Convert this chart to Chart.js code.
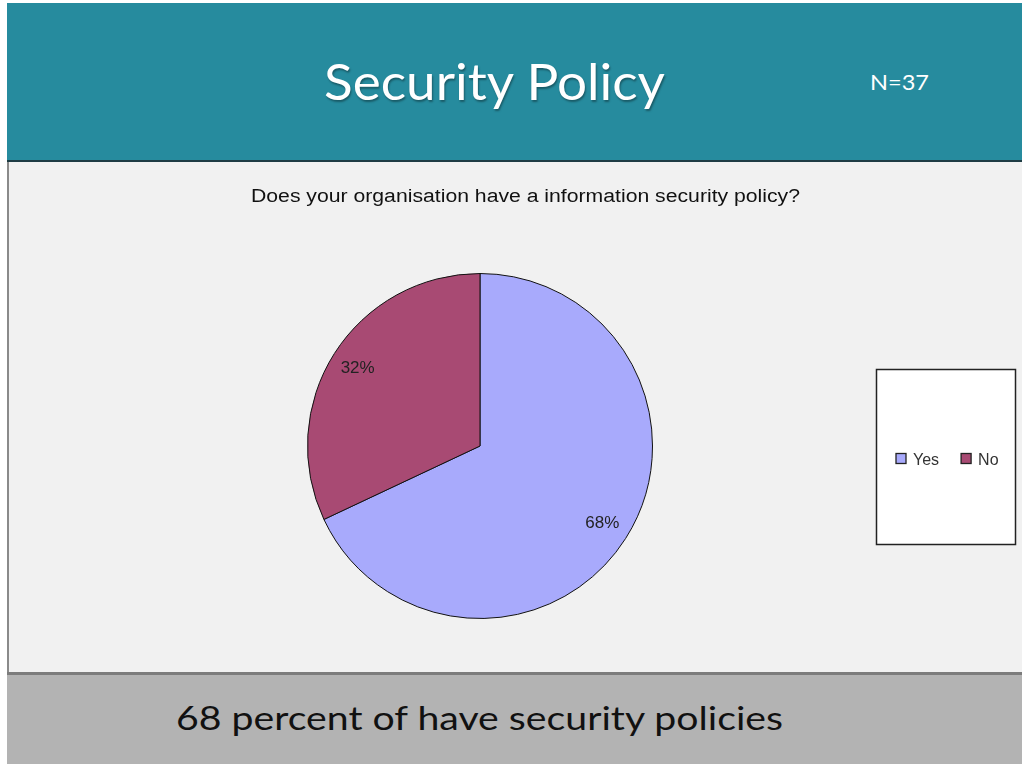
<!DOCTYPE html>
<html>
<head>
<meta charset="utf-8">
<script src="https://cdn.jsdelivr.net/npm/chart.js@4/dist/chart.umd.min.js"></script>
<style>
  html, body { margin: 0; padding: 0; background: #ffffff; }
  body { width: 1022px; height: 764px; position: relative; overflow: hidden; }
  #header {
    position: absolute; left: 7px; top: 3px; width: 1015px; height: 157px;
    background: #268b9e; border-bottom: 2px solid #1e3c44;
  }
  #content {
    position: absolute; left: 7px; top: 162px; width: 1015px; height: 510px;
    background: #f1f1f1; box-sizing: border-box; border-left: 2px solid #8a8a8a;
  }
  #footer {
    position: absolute; left: 7px; top: 672px; width: 1015px; height: 92px;
    background: #b3b3b3; border-top: 3px solid #7c7c7c; box-sizing: border-box;
  }
  .fit { position: absolute; white-space: nowrap; transform-origin: 0 0; line-height: 1; }
  #title { color: #ffffff; font-family: Lato, "Open Sans", sans-serif; font-size: 50px;
           text-shadow: 1px 2px 2px rgba(0,0,0,0.35); }
  #nlabel { color: #ffffff; font-family: Lato, "Open Sans", sans-serif; font-size: 21px; }
  #question { color: #111111; font-family: "Liberation Sans", Arial, sans-serif; font-size: 18px; }
  #summary { color: #111111; font-family: Lato, "Open Sans", sans-serif; font-size: 32px; }
  #chartWrap { position: absolute; left: 7px; top: 162px; width: 1015px; height: 510px; }
</style>
</head>
<body>
<div id="header"></div>
<div id="content"></div>
<div id="footer"></div>
<div id="chartWrap"><canvas id="pie" width="1015" height="510"></canvas></div>

<span class="fit" id="title" data-x="324" data-cap="65" data-w="341">Security Policy</span>
<span class="fit" id="nlabel" data-x="870" data-cap="75" data-w="59">N=37</span>
<span class="fit" id="question" data-x="251" data-cap="190" data-w="549">Does your organisation have a information security policy?</span>
<span class="fit" id="summary" data-x="176" data-cap="708" data-w="607">68 percent of have security policies</span>

<script>
// Survey answers (percent of respondents)
const categories = ['Yes', 'No'];
const shares = [68, 32];
const sliceColors = ['#a8aafc', '#a84a73'];

// Place each text run by its left edge and cap top, and squeeze it to its width
document.querySelectorAll('.fit').forEach(function (el) {
  const fs = parseFloat(getComputedStyle(el).fontSize);
  const r = el.getBoundingClientRect();
  const sx = parseFloat(el.dataset.w) / r.width;
  // approximate cap-top offset inside a line box of line-height 1
  const capOffset = fs * 0.18;
  el.style.left = el.dataset.x + 'px';
  el.style.top = (parseFloat(el.dataset.cap) - capOffset) + 'px';
  el.style.transform = 'scaleX(' + sx + ')';
});

// Percent labels placed along each slice's middle angle
const sliceLabels = {
  id: 'sliceLabels',
  afterDatasetsDraw(chart) {
    const ctx = chart.ctx;
    const meta = chart.getDatasetMeta(0);
    ctx.save();
    ctx.font = '17px "Liberation Sans", Arial, sans-serif';
    ctx.fillStyle = '#222222';
    ctx.textAlign = 'center';
    ctx.textBaseline = 'middle';
    meta.data.forEach(function (arc, i) {
      const p = arc.getProps(['x', 'y', 'startAngle', 'endAngle', 'outerRadius'], true);
      const mid = (p.startAngle + p.endAngle) / 2;
      const d = p.outerRadius * 0.84;
      ctx.fillText(chart.data.datasets[0].data[i] + '%', p.x + Math.cos(mid) * d, p.y + Math.sin(mid) * d);
    });
    ctx.restore();
  }
};

// Boxed legend to the right of the pie
const boxedLegend = {
  id: 'boxedLegend',
  afterDraw(chart) {
    const ctx = chart.ctx;
    const box = { x: 869.5, y: 207.5, w: 139, h: 175 };
    ctx.save();
    ctx.fillStyle = '#ffffff';
    ctx.fillRect(box.x, box.y, box.w, box.h);
    ctx.strokeStyle = '#222222';
    ctx.lineWidth = 1.5;
    ctx.strokeRect(box.x, box.y, box.w, box.h);
    ctx.font = '16px "Liberation Sans", Arial, sans-serif';
    ctx.textBaseline = 'middle';
    const ds = chart.data.datasets[0];
    let x = box.x + 19.5;
    const y = box.y + 89;
    chart.data.labels.forEach(function (lab, i) {
      ctx.fillStyle = ds.backgroundColor[i];
      ctx.fillRect(x, y - 5, 10, 10);
      ctx.strokeStyle = '#222222';
      ctx.lineWidth = 1.3;
      ctx.strokeRect(x, y - 5, 10, 10);
      ctx.fillStyle = '#333333';
      ctx.textAlign = 'left';
      ctx.fillText(lab, x + 17, y + 2);
      x += ctx.measureText(lab).width + 17 + 22;
    });
    ctx.restore();
  }
};

new Chart(document.getElementById('pie'), {
  type: 'pie',
  data: {
    labels: categories,
    datasets: [{
      data: shares,
      backgroundColor: sliceColors,
      borderColor: '#111111',
      borderWidth: 1
    }]
  },
  options: {
    responsive: false,
    animation: false,
    layout: { padding: { left: 300, right: 369, top: 111, bottom: 53 } },
    plugins: {
      legend: { display: false },
      tooltip: { enabled: false }
    }
  },
  plugins: [sliceLabels, boxedLegend]
});
</script>
</body>
</html>
